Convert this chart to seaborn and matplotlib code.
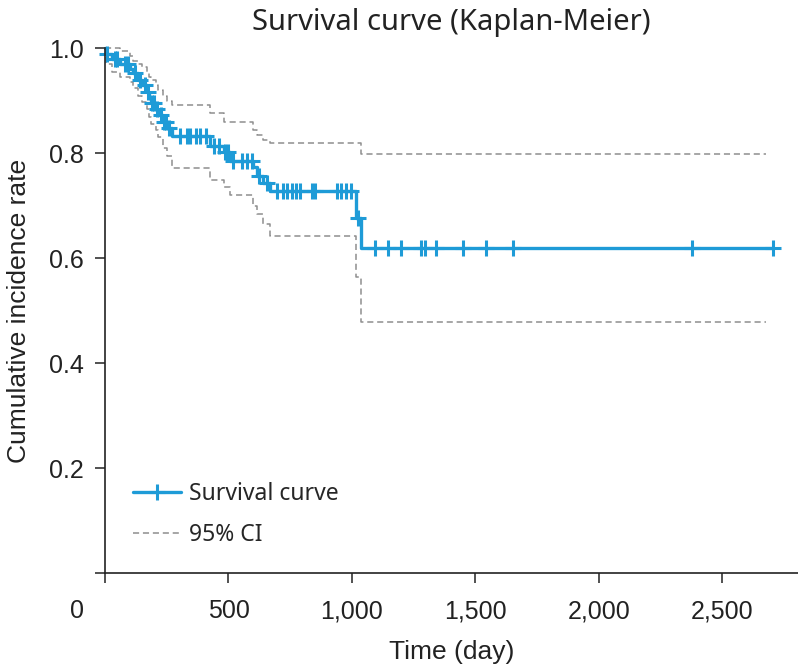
import matplotlib
matplotlib.use("Agg")
import matplotlib.pyplot as plt
import matplotlib.transforms as mtransforms
from matplotlib.lines import Line2D
import seaborn as sns
import pandas as pd
import numpy as np

# Kaplan-Meier steps (day of event, value after the event)
event_days = [0, 5, 30, 60, 100, 115, 135, 150, 170, 178, 185, 205, 215, 235, 250,
              270, 425, 480, 505, 600, 615, 640, 670, 1015, 1035]
surv = [1.0, 0.99, 0.98, 0.97, 0.96, 0.953, 0.94, 0.93, 0.917, 0.905, 0.895, 0.885,
        0.873, 0.86, 0.848, 0.832, 0.813, 0.803, 0.785, 0.773, 0.757, 0.743, 0.728,
        0.676, 0.619]
ci_upper = [1.0, 1.0, 1.0, 0.994, 0.985, 0.975, 0.97, 0.965, 0.955, 0.945, 0.94, 0.93,
            0.92, 0.91, 0.90, 0.892, 0.877, 0.86, 0.86, 0.845, 0.835, 0.826, 0.819,
            0.819, 0.798]
ci_lower = [1.0, 0.97, 0.955, 0.945, 0.935, 0.925, 0.91, 0.898, 0.885, 0.87, 0.855,
            0.845, 0.83, 0.81, 0.795, 0.772, 0.749, 0.735, 0.72, 0.70, 0.685, 0.665,
            0.643, 0.565, 0.479]
curve_end = 2705
ci_end = 2675

# censored observations (day)
censor_days = [10, 40, 50, 80, 95, 120, 140, 160, 175, 190, 200, 210, 225, 240, 245, 260,
               305, 330, 345, 370, 385, 410, 440, 460, 485, 500, 520, 555, 575, 595,
               625, 655, 697, 721, 737, 757, 774, 790, 837, 851, 938, 955, 975, 995,
               1025, 1094, 1146, 1199, 1280, 1296, 1341, 1450, 1543, 1652, 2377, 2705]

x_ticks = [0, 500, 1000, 1500, 2000, 2500]
x_labels = ["0", "500", "1,000", "1,500", "2,000", "2,500"]
y_ticks = [0, 0.2, 0.4, 0.6, 0.8, 1.0]
y_labels = ["", "0.2", "0.4", "0.6", "0.8", "1.0"]

BLUE = "#1E9BD7"
GREY = "#8E8E8E"
INK = "#222222"

sns.set_style("ticks")
plt.rcParams["font.family"] = ["Liberation Sans", "DejaVu Sans"]

curve = pd.DataFrame({"day": event_days + [curve_end], "surv": surv + [surv[-1]]})
band = pd.DataFrame({"day": event_days + [ci_end],
                     "upper": ci_upper + [ci_upper[-1]],
                     "lower": ci_lower + [ci_lower[-1]]})
idx = np.searchsorted(event_days, censor_days, side="right") - 1
censors = pd.DataFrame({"day": censor_days, "surv": np.array(surv)[idx]})

fig = plt.figure(figsize=(7.98, 6.68), dpi=100)
ax = fig.add_axes([105 / 798, 1 - 573 / 668, 1 - 105 / 798, (573 - 48.3) / 668])

dash = (0, (4, 2.5))
sns.lineplot(data=band, x="day", y="upper", ax=ax, color=GREY, lw=1.1,
             linestyle=dash, drawstyle="steps-post", clip_on=False)
sns.lineplot(data=band, x="day", y="lower", ax=ax, color=GREY, lw=1.1,
             linestyle=dash, drawstyle="steps-post", clip_on=False)
sns.lineplot(data=curve, x="day", y="surv", ax=ax, color=BLUE, lw=2.4,
             drawstyle="steps-post", clip_on=False)
ax.plot(censors["day"], censors["surv"], ls="none", marker="+", ms=11, mew=2.2,
        color=BLUE, clip_on=False)

ax.set_xlim(0, 2806)
ax.set_ylim(0, 1.0)
ax.set_xticks(x_ticks)
ax.set_xticklabels(x_labels)
ax.set_yticks(y_ticks)
ax.set_yticklabels(y_labels)
ax.tick_params(axis="both", labelsize=18, width=1.1, length=7, color=INK,
               labelcolor=INK)
ax.tick_params(axis="x", pad=12)
ax.tick_params(axis="y", pad=8)
for lab in ax.get_xticklabels()[:1]:
    lab.set_transform(lab.get_transform() +
                      mtransforms.ScaledTranslation(-0.28, 0, fig.dpi_scale_trans))

sns.despine(ax=ax)
for s in ["left", "bottom"]:
    ax.spines[s].set_linewidth(1.2)
    ax.spines[s].set_color(INK)

ax.set_xlabel("Time (day)", fontsize=19, color=INK, labelpad=12)
ax.set_ylabel("Cumulative incidence rate", fontsize=19, color=INK, labelpad=13)
ax.set_title("Survival curve (Kaplan-Meier)", fontsize=21, color=INK, pad=13,
             family=["Noto Sans", "DejaVu Sans"])

handles = [Line2D([], [], color=BLUE, lw=2.4, marker="+", ms=11, mew=2.2),
           Line2D([], [], color=GREY, lw=1.1, linestyle=dash)]
ax.legend(handles, ["Survival curve", "95% CI"], loc="lower left",
          bbox_to_anchor=(0.01, 0.011), frameon=False, handlelength=2.1,
          handletextpad=0.35, labelspacing=0.72,
          prop={"family": ["Noto Sans", "DejaVu Sans"], "size": 16.5})

fig.savefig("out.png", dpi=100)
